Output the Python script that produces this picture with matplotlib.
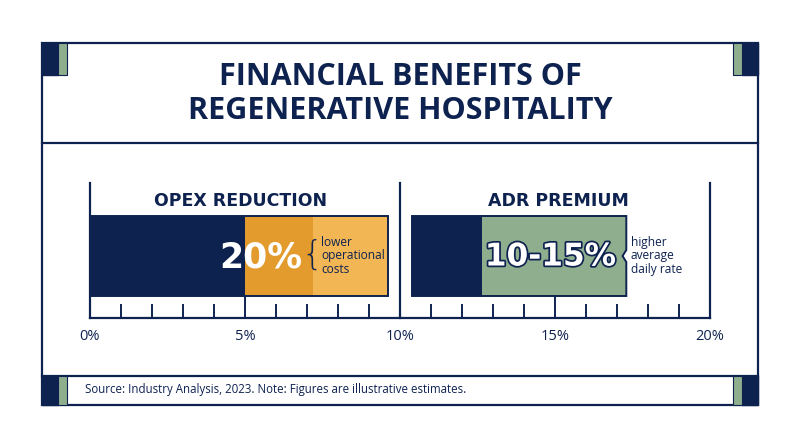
import numpy as np
import matplotlib.pyplot as plt
from matplotlib.patches import Rectangle, Polygon
import matplotlib.patheffects as pe

# colours
navy = '#0E2250'
sage = '#8FAE8E'
orange_dk = '#E29B2C'
orange_lt = '#F2B655'

# data
title_lines = ['FINANCIAL BENEFITS OF', 'REGENERATIVE HOSPITALITY']
panel_titles = ['OPEX REDUCTION', 'ADR PREMIUM']
# segments: start %, end %
opex_starts = [0, 5, 7.2]
opex_ends = [5, 7.2, 9.6]
opex_colors = [navy, orange_dk, orange_lt]
adr_starts = [10.4, 12.6]
adr_ends = [12.6, 17.3]
adr_colors = [navy, sage]
big_labels = ['20%', '10-15%']
notes = ['lower\noperational\ncosts', 'higher\naverage\ndaily rate']
tick_vals = [0, 5, 10, 15, 20]
tick_labels = ['0%', '5%', '10%', '15%', '20%']
source = 'Source: Industry Analysis, 2023. Note: Figures are illustrative estimates.'

fig = plt.figure(figsize=(8, 4.47), dpi=100)
bg = fig.add_axes([0, 0, 1, 1])
bg.set_xlim(0, 800)
bg.set_ylim(447, 0)
bg.axis('off')

# frame
bg.add_patch(Rectangle((42, 43), 716, 362, fill=False, ec=navy, lw=1.6, zorder=3))
bg.plot([42, 758], [143, 143], color=navy, lw=1.6, zorder=3)
bg.plot([42, 758], [376, 376], color=navy, lw=1.6, zorder=3)
# corner blocks
for y0, h in [(43, 32), (376, 29)]:
    bg.add_patch(Rectangle((42, y0), 16, h, color=navy, zorder=4))
    bg.add_patch(Rectangle((58, y0), 9, h, fc=sage, ec=navy, lw=0.8, zorder=4))
    bg.add_patch(Rectangle((742, y0), 16, h, color=navy, zorder=4))
    bg.add_patch(Rectangle((733, y0), 9, h, fc=sage, ec=navy, lw=0.8, zorder=4))

for i, line in enumerate(title_lines):
    bg.text(400, 77 + 34 * i, line, ha='center', va='center', fontsize=22,
            fontweight='bold', color=navy, family='Open Sans')

bg.text(85, 390, source, ha='left', va='center', fontsize=8.3, color=navy,
        family='Open Sans')

# chart axes in percent
ax = fig.add_axes([90 / 800, 1 - 318 / 447, 620 / 800, (318 - 180) / 447])
ax.set_xlim(0, 20)
ax.set_ylim(318, 180)
ax.axis('off')

bar_y, bar_h = 256, 80
ax.barh(bar_y, np.subtract(opex_ends, opex_starts), left=opex_starts, height=bar_h,
        color=opex_colors, edgecolor='none', zorder=2)
ax.barh(bar_y, adr_ends[0] - adr_starts[0], left=adr_starts[0], height=bar_h,
        color=adr_colors[0], edgecolor='none', zorder=2)
# green segment with notch on right edge
x0, x1 = adr_starts[1], adr_ends[1]
top, bot = bar_y - bar_h / 2, bar_y + bar_h / 2
ax.add_patch(Polygon([(x0, top), (x1, top), (x1, bar_y - 6), (x1 - 0.12, bar_y),
                      (x1, bar_y + 6), (x1, bot), (x0, bot)],
                     closed=True, fc=adr_colors[1], ec=navy, lw=1.4, zorder=3))
# outlines
ax.add_patch(Rectangle((opex_starts[0], top), opex_ends[-1] - opex_starts[0], bar_h,
                       fill=False, ec=navy, lw=1.4, zorder=4))
ax.add_patch(Rectangle((adr_starts[0], top), adr_ends[0] - adr_starts[0], bar_h,
                       fill=False, ec=navy, lw=1.4, zorder=4))

# axis lines and ticks
ax.plot([0, 20], [318, 318], color=navy, lw=1.6, zorder=5, clip_on=False)
for v in range(21):
    if v in (0, 10, 20):
        ax.plot([v, v], [183, 318], color=navy, lw=1.6, zorder=5, clip_on=False)
    elif v in (5, 15):
        ax.plot([v, v], [bot, 318], color=navy, lw=1.4, zorder=5)
    else:
        ax.plot([v, v], [305, 318], color=navy, lw=1.4, zorder=5)
for v, lab in zip(tick_vals, tick_labels):
    ax.text(v, 336, lab, ha='center', va='center', fontsize=10.5, color=navy,
            family='Open Sans', clip_on=False)

# panel titles
for cx, t in zip([4.85, 15.1], panel_titles):
    ax.text(cx, 201, t, ha='center', va='center', fontsize=12.5, fontweight='bold',
            color=navy, family='DejaVu Sans')

# big values
ax.text(5.5, 257, big_labels[0], ha='center', va='center', fontsize=25,
        fontweight='bold', color='white', family='DejaVu Sans', zorder=6)
ax.text(14.85, 257, big_labels[1], ha='center', va='center', fontsize=22.5,
        fontweight='bold', color='white', family='DejaVu Sans', zorder=6,
        path_effects=[pe.withStroke(linewidth=2.5, foreground=navy)])

# braces and notes
ax.text(7.16, 255, '{', ha='center', va='center', fontsize=24, color=navy,
        family='DejaVu Sans', fontweight='light', zorder=6)
ax.text(7.46, 256, notes[0], ha='left', va='center', fontsize=8.6, color=navy,
        family='Open Sans', linespacing=1.05, zorder=6)
ax.text(17.45, 256, notes[1], ha='left', va='center', fontsize=8.6, color=navy,
        family='Open Sans', linespacing=1.05, zorder=6)

fig.savefig('out.png', dpi=100)
